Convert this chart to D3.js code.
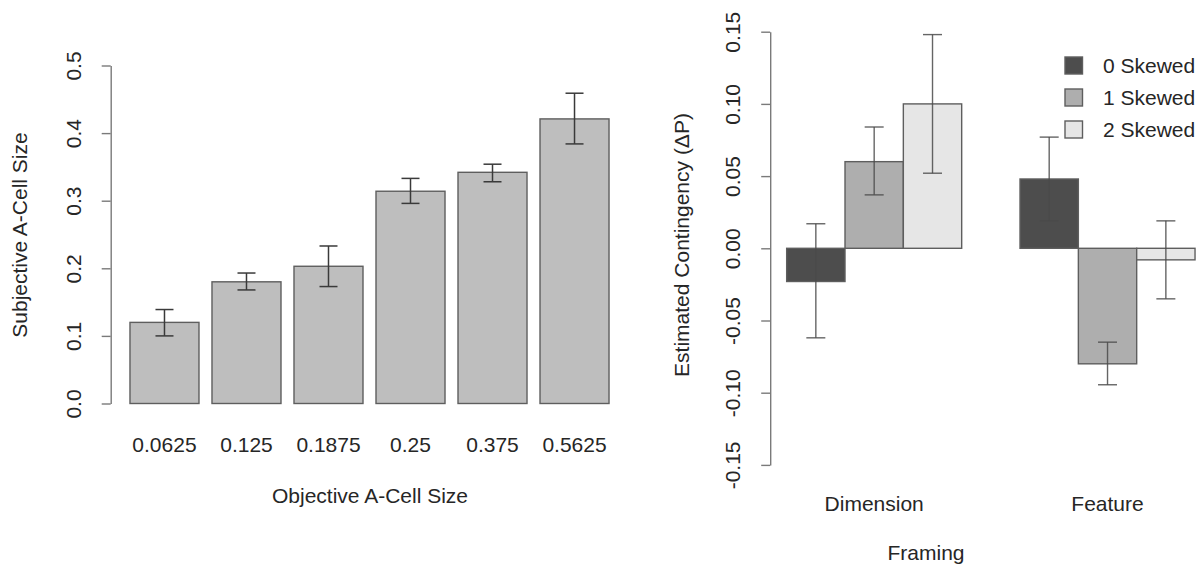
<!DOCTYPE html>
<html>
<head>
<meta charset="utf-8">
<script src="https://cdn.jsdelivr.net/npm/d3@7"></script>
<style>
  html, body { margin: 0; padding: 0; background: #fff; }
  svg { display: block; }
  text { font-family: "Liberation Sans", Arial, Helvetica, sans-serif; fill: #262626; }
</style>
</head>
<body>
<svg id="chart" width="1201" height="567"></svg>
<script>
// ---- Left panel: subjective vs objective A-cell size ----
const cellSizes = ["0.0625", "0.125", "0.1875", "0.25", "0.375", "0.5625"];
const subjMean  = [0.120, 0.180, 0.203, 0.314, 0.342, 0.421];
const subjLow   = [0.100, 0.168, 0.173, 0.296, 0.328, 0.384];
const subjHigh  = [0.139, 0.193, 0.233, 0.333, 0.354, 0.459];
const leftTicks      = [0, 0.1, 0.2, 0.3, 0.4, 0.5];
const leftTickLabels = ["0.0", "0.1", "0.2", "0.3", "0.4", "0.5"];

// ---- Right panel: estimated contingency by framing ----
const framings    = ["Dimension", "Feature"];
const skewGroups  = ["0 Skewed", "1 Skewed", "2 Skewed"];
const skew0Mean = [-0.023,  0.048];
const skew0Low  = [-0.062,  0.019];
const skew0High = [ 0.017,  0.077];
const skew1Mean = [ 0.060, -0.080];
const skew1Low  = [ 0.037, -0.0945];
const skew1High = [ 0.084, -0.065];
const skew2Mean = [ 0.100, -0.008];
const skew2Low  = [ 0.052, -0.035];
const skew2High = [ 0.148,  0.019];
const rightTicks      = [-0.15, -0.10, -0.05, 0, 0.05, 0.10, 0.15];
const rightTickLabels = ["-0.15", "-0.10", "-0.05", "0.00", "0.05", "0.10", "0.15"];
const skewFills = ["#4d4d4d", "#aeaeae", "#e6e6e6"];

const FONT = 21;
const svg = d3.select("#chart");

function styleAxis(g, labels, offset) {
  g.select(".domain").attr("stroke", "#7a7a7a").attr("stroke-width", 1.4);
  g.selectAll(".tick line").attr("stroke", "#7a7a7a").attr("stroke-width", 1.4);
  g.selectAll(".tick text")
    .text((d, i) => labels[i])
    .attr("x", 0)
    .attr("y", -offset)
    .attr("dy", null)
    .attr("transform", "rotate(-90)")
    .attr("text-anchor", "middle")
    .attr("font-size", FONT)
    .attr("fill", "#262626");
}

// ---------- Left panel ----------
const yL = d3.scaleLinear().domain([0, 0.5]).range([403.5, 65.5]);
const xL = d3.scaleBand().domain(cellSizes).range([123.5, 615.5])
  .paddingInner(0.1585).paddingOuter(0.079);
const axisXL = 110.7;

const left = svg.append("g");
left.append("g")
  .attr("transform", `translate(${axisXL},0)`)
  .call(d3.axisLeft(yL).tickValues(leftTicks).tickSize(9).tickSizeOuter(0))
  .call(g => styleAxis(g, leftTickLabels, 30));

const leftData = cellSizes.map((c, i) => ({c, m: subjMean[i], lo: subjLow[i], hi: subjHigh[i]}));

left.selectAll("rect.bar").data(leftData).join("rect")
  .attr("class", "bar")
  .attr("x", d => xL(d.c))
  .attr("width", xL.bandwidth())
  .attr("y", d => yL(d.m))
  .attr("height", d => yL(0) - yL(d.m))
  .attr("fill", "#bebebe")
  .attr("stroke", "#5e5e5e")
  .attr("stroke-width", 1.4);

const capL = 9;
const errL = left.selectAll("g.err").data(leftData).join("g")
  .attr("class", "err")
  .attr("stroke", "#3a3a3a")
  .attr("stroke-width", 1.5);
errL.append("line")
  .attr("x1", d => xL(d.c) + xL.bandwidth() / 2).attr("x2", d => xL(d.c) + xL.bandwidth() / 2)
  .attr("y1", d => yL(d.lo)).attr("y2", d => yL(d.hi));
errL.append("line")
  .attr("x1", d => xL(d.c) + xL.bandwidth() / 2 - capL).attr("x2", d => xL(d.c) + xL.bandwidth() / 2 + capL)
  .attr("y1", d => yL(d.hi)).attr("y2", d => yL(d.hi));
errL.append("line")
  .attr("x1", d => xL(d.c) + xL.bandwidth() / 2 - capL).attr("x2", d => xL(d.c) + xL.bandwidth() / 2 + capL)
  .attr("y1", d => yL(d.lo)).attr("y2", d => yL(d.lo));

left.selectAll("text.xlab").data(cellSizes).join("text")
  .attr("class", "xlab")
  .attr("x", d => xL(d) + xL.bandwidth() / 2)
  .attr("y", 451.5)
  .attr("text-anchor", "middle")
  .attr("font-size", FONT)
  .text(d => d);

left.append("text")
  .attr("x", 370).attr("y", 503)
  .attr("text-anchor", "middle")
  .attr("font-size", FONT)
  .text("Objective A-Cell Size");

left.append("text")
  .attr("transform", "translate(27,235) rotate(-90)")
  .attr("text-anchor", "middle")
  .attr("font-size", FONT)
  .text("Subjective A-Cell Size");

// ---------- Right panel ----------
const yR = d3.scaleLinear().domain([-0.15, 0.15]).range([464.9, 31.7]);
const xR = d3.scaleBand().domain(framings).range([757.5, 1224.2])
  .paddingInner(0.25).paddingOuter(0.125);
const xS = d3.scaleBand().domain(skewGroups).range([0, xR.bandwidth()]).padding(0);
const axisXR = 770.2;

const right = svg.append("g");
right.append("g")
  .attr("transform", `translate(${axisXR},0)`)
  .call(d3.axisLeft(yR).tickValues(rightTicks).tickSize(9).tickSizeOuter(0))
  .call(g => styleAxis(g, rightTickLabels, 30));

const means = [skew0Mean, skew1Mean, skew2Mean];
const lows  = [skew0Low, skew1Low, skew2Low];
const highs = [skew0High, skew1High, skew2High];
const rightData = [];
framings.forEach((f, fi) => {
  skewGroups.forEach((s, si) => {
    rightData.push({f, s, si, m: means[si][fi], lo: lows[si][fi], hi: highs[si][fi]});
  });
});
const bx = d => xR(d.f) + xS(d.s);

right.selectAll("rect.bar").data(rightData).join("rect")
  .attr("class", "bar")
  .attr("x", bx)
  .attr("width", xS.bandwidth())
  .attr("y", d => yR(Math.max(0, d.m)))
  .attr("height", d => Math.abs(yR(d.m) - yR(0)))
  .attr("fill", d => skewFills[d.si])
  .attr("stroke", "#5e5e5e")
  .attr("stroke-width", 1.4);

const capR = 9.5;
const errR = right.selectAll("g.err").data(rightData).join("g")
  .attr("class", "err")
  .attr("stroke", "#4a4a4a")
  .attr("stroke-opacity", 0.85)
  .attr("stroke-width", 1.4);
const cx = d => bx(d) + xS.bandwidth() / 2;
errR.append("line")
  .attr("x1", cx).attr("x2", cx)
  .attr("y1", d => yR(d.lo)).attr("y2", d => yR(d.hi));
errR.append("line")
  .attr("x1", d => cx(d) - capR).attr("x2", d => cx(d) + capR)
  .attr("y1", d => yR(d.hi)).attr("y2", d => yR(d.hi));
errR.append("line")
  .attr("x1", d => cx(d) - capR).attr("x2", d => cx(d) + capR)
  .attr("y1", d => yR(d.lo)).attr("y2", d => yR(d.lo));

right.selectAll("text.xlab").data(framings).join("text")
  .attr("class", "xlab")
  .attr("x", d => xR(d) + xR.bandwidth() / 2)
  .attr("y", 510.5)
  .attr("text-anchor", "middle")
  .attr("font-size", FONT)
  .text(d => d);

right.append("text")
  .attr("x", 926).attr("y", 560)
  .attr("text-anchor", "middle")
  .attr("font-size", FONT)
  .text("Framing");

right.append("text")
  .attr("transform", "translate(689,245) rotate(-90)")
  .attr("text-anchor", "middle")
  .attr("font-size", FONT)
  .text("Estimated Contingency (ΔP)");

// Legend
const legend = right.append("g").attr("transform", "translate(1065,0)");
const legRows = legend.selectAll("g").data(skewGroups).join("g")
  .attr("transform", (d, i) => `translate(0,${65.5 + i * 32})`);
legRows.append("rect")
  .attr("x", 0).attr("y", -8.5)
  .attr("width", 17.5).attr("height", 17)
  .attr("fill", (d, i) => skewFills[i])
  .attr("stroke", "#5e5e5e")
  .attr("stroke-width", 1.4);
legRows.append("text")
  .attr("x", 38).attr("y", 7.5)
  .attr("font-size", FONT)
  .text(d => d);
</script>
</body>
</html>
